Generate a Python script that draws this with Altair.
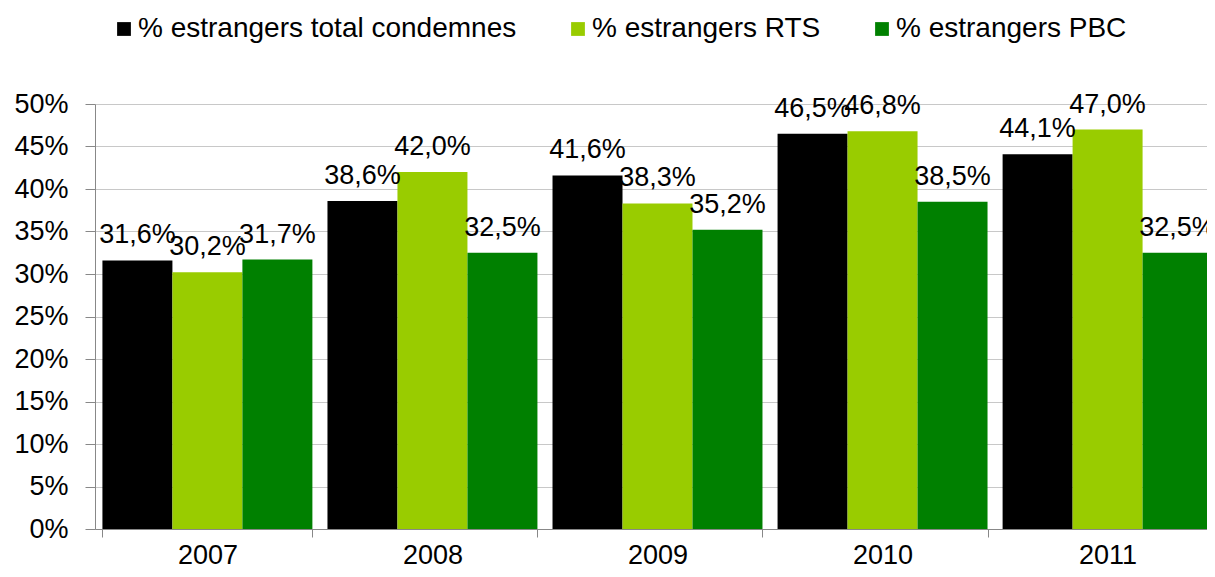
import altair as alt
import pandas as pd

years = ["2007", "2008", "2009", "2010", "2011"]
series = ["% estrangers total condemnes", "% estrangers RTS", "% estrangers PBC"]
total = [31.6, 38.6, 41.6, 46.5, 44.1]
rts = [30.2, 42.0, 38.3, 46.8, 47.0]
pbc = [31.7, 32.5, 35.2, 38.5, 32.5]
colors = ["#000000", "#99CC00", "#008000"]

rows = []
for vals, s in zip([total, rts, pbc], series):
    for y, v in zip(years, vals):
        rows.append({"year": y, "series": s, "value": v / 100.0,
                     "label": f"{v:.1f}".replace(".", ",") + "%"})
df = pd.DataFrame(rows)

FONT = "Liberation Sans"

x = alt.X("year:N", title=None,
          scale=alt.Scale(range=[0, 1125], paddingInner=0.067, paddingOuter=0.033),
          axis=alt.Axis(labelAngle=0, labelFontSize=27, labelFont=FONT, labelColor="#000000",
                        domainColor="#888888", tickColor="#888888", tickSize=8,
                        tickBand="extent", labelPadding=5, grid=False))
y = alt.Y("value:Q", title=None,
          scale=alt.Scale(domain=[0, 0.5]),
          axis=alt.Axis(format=".0%", values=[i * 0.05 for i in range(11)],
                        labelFontSize=27, labelFont=FONT, labelColor="#000000",
                        domainColor="#888888", tickColor="#888888", tickSize=10,
                        labelPadding=17, gridColor="#c8c8c8", grid=True))
xo = alt.XOffset("series:N", sort=series)

bars = alt.Chart(df).mark_bar(clip=True).encode(
    x=x, y=y, xOffset=xo,
    color=alt.Color("series:N", sort=series,
                    scale=alt.Scale(domain=series, range=colors),
                    legend=alt.Legend(title=None, orient="none", direction="horizontal",
                                      legendX=15, legendY=-89, columns=3,
                                      symbolType="square", symbolSize=190,
                                      symbolStrokeWidth=0, labelFontSize=28,
                                      labelFont=FONT, labelColor="#000000",
                                      columnPadding=47, labelLimit=500, labelOffset=0)),
)

text = alt.Chart(df).mark_text(baseline="alphabetic", dy=-17, fontSize=27, font=FONT,
                               color="#000000").encode(
    x=x, y=y, xOffset=xo, text="label:N"
)

chart = alt.layer(bars, text).properties(
    width=1112, height=425,
    padding={"left": 87, "top": 96, "right": 0, "bottom": 40},
    autosize="none",
).configure_view(stroke=None)

chart.save("out.html", embed_options={"renderer": "svg", "actions": False})
